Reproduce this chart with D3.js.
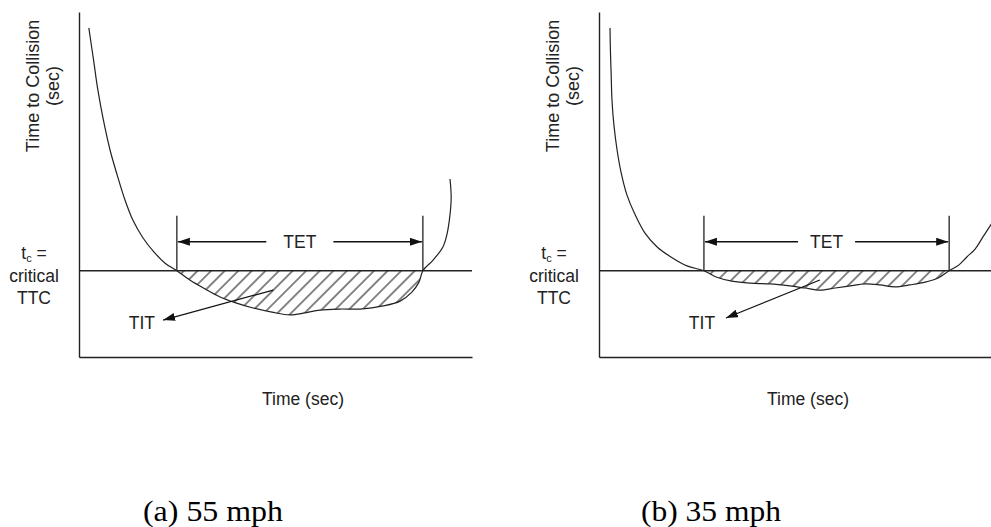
<!DOCTYPE html>
<html><head><meta charset="utf-8">
<script src="https://cdn.jsdelivr.net/npm/d3@7"></script>
<style>body{margin:0;background:#fff}svg{display:block}</style>
</head><body>
<svg id="c" width="991" height="527"></svg>
<script>
// ---- data (time in % of window, TTC in % of axis height) ----
const criticalTTC = 25;
const timeA = [2.5,3.7,4.8,6.2,7.9,9.7,11.7,13.7,16.3,19.1,21.9,24.9,28.2,32.1,35.9,39.9,44.3,49.1,53.7,57.5,61.3,66.4,71.5,77.4,81.7,84.7,86.5,87.5,90.1,92.6,93.6,94.4,94.7,94.4];
const ttcA  = [95.4,86.1,77.4,68.7,60.0,52.8,45.5,39.7,34.5,30.4,27.2,25,22.3,19.7,17.4,15.7,14.2,13.0,12.2,12.8,13.6,13.9,13.9,14.8,16.2,18.8,21.7,25,28.1,31.9,35.4,41.2,46.4,51.6];
const timeB = [2.8,2.9,3.1,3.3,3.8,4.6,5.6,7.1,9.2,11.7,14.8,18.3,22.4,26.7,29.8,33.8,38.4,43.5,48.6,52.4,56.2,60.1,63.9,67.7,71.5,75.3,79.1,83.0,86.3,89.1,91.6,93.6,95.7,97.7,99.7,101.3];
const ttcB  = [95.4,89.0,81.7,74.5,67.2,60.0,53.6,47.0,41.2,35.9,31.9,29.0,26.4,25,23.2,22.0,21.4,21.2,20.6,20.0,19.4,20.0,20.6,21.2,20.9,20.3,20.9,21.7,22.9,25,26.7,29.0,31.3,34.8,38.3,40.9];
const captions = ["(a) 55 mph", "(b) 35 mph"];
const yAxisLines = ["Time to Collision", "(sec)"];
const xAxisTitle = "Time (sec)";
const tcLines = ["critical", "TTC"];
const tetLabel = "TET";
const titLabel = "TIT";

// ---- layout ----
const panels = [
  {time: timeA, ttc: ttcA, caption: captions[0], x0: 79, titFrom: [49.4, 19.4], titTo: [21.4, 10.7], titText: [16.0, 8.1], xTitle: 303, capX: 213, tetPad: 17},
  {time: timeB, ttc: ttcB, caption: captions[1], x0: 599, titFrom: [56.2, 22.3], titTo: [32.3, 11.3], titText: [26.2, 8.1], xTitle: 808, capX: 711, tetPad: 12}
];
const PW = 393, yTop = 12, yBot = 357;
const ink = "#222";
const txt = "#222";
const sans = "'Liberation Sans', Arial, sans-serif";
const fs = 17.5;

const svg = d3.select("#c");
svg.append("rect").attr("width", 991).attr("height", 527).attr("fill", "#fff");
const defs = svg.append("defs");
const pat = defs.append("pattern").attr("id", "hatch").attr("patternUnits", "userSpaceOnUse")
  .attr("width", 9.6).attr("height", 9.6).attr("patternTransform", "rotate(45)");
pat.append("line").attr("x1", 4.8).attr("x2", 4.8).attr("y1", 0).attr("y2", 9.6)
  .attr("stroke", ink).attr("stroke-width", 1.1);
defs.append("marker").attr("id", "arr").attr("markerUnits", "userSpaceOnUse")
  .attr("markerWidth", 13).attr("markerHeight", 9).attr("refX", 12).attr("refY", 4)
  .attr("orient", "auto")
  .append("path").attr("d", "M0,0L12,4L0,8Z").attr("fill", "#111");

panels.forEach(p => {
  const x = d3.scaleLinear([0, 100], [p.x0, p.x0 + PW]);
  const y = d3.scaleLinear([0, 100], [yBot, yTop]);
  const g = svg.append("g");

  // axes
  const ay = g.append("g").attr("transform", `translate(${p.x0},0)`)
    .call(d3.axisLeft(y).tickValues([]).tickSizeOuter(0));
  const ax = g.append("g").attr("transform", `translate(0,${yBot})`)
    .call(d3.axisBottom(x).tickValues([]).tickSizeOuter(0));
  [ay, ax].forEach(a => a.select(".domain").attr("stroke", ink).attr("stroke-width", 1.4));

  const pts = p.time.map((t, i) => [t, p.ttc[i]]);
  const line = d3.line().x(d => x(d[0])).y(d => y(d[1])).curve(d3.curveCatmullRom.alpha(0.5));

  // hatched region below critical TTC
  const i0 = p.ttc.findIndex(v => v <= criticalTTC);
  let i1 = p.ttc.length - 1; while (p.ttc[i1] > criticalTTC) i1--;
  const sub = pts.slice(i0, i1 + 1);
  g.append("path").attr("d", line(sub) + "Z").attr("fill", "url(#hatch)").attr("stroke", "none");

  // critical line
  g.append("line").attr("x1", x(0)).attr("x2", x(100)).attr("y1", y(criticalTTC)).attr("y2", y(criticalTTC))
    .attr("stroke", ink).attr("stroke-width", 1.3);

  // curve
  g.append("path").attr("d", line(pts)).attr("fill", "none").attr("stroke", ink).attr("stroke-width", 1.2);

  // TET bracket
  const xa = x(p.time[i0]), xb = x(p.time[i1]);
  const yc = y(criticalTTC), yBr = yc - 55, yAr = yc - 29;
  [xa, xb].forEach(xx => g.append("line").attr("x1", xx).attr("x2", xx).attr("y1", yBr).attr("y2", yc)
    .attr("stroke", ink).attr("stroke-width", 1.3));
  const mid = (xa + xb) / 2;
  const tet = g.append("text").attr("x", mid).attr("y", yAr).attr("dy", "0.36em")
    .attr("text-anchor", "middle").attr("font-family", sans).attr("font-size", fs).attr("fill", txt).text(tetLabel);
  const hw = tet.node().getComputedTextLength() / 2 + p.tetPad;
  g.append("line").attr("x1", mid - hw).attr("x2", xa + 1).attr("y1", yAr).attr("y2", yAr)
    .attr("stroke", "#111").attr("stroke-width", 1.3).attr("marker-end", "url(#arr)");
  g.append("line").attr("x1", mid + hw).attr("x2", xb - 1).attr("y1", yAr).attr("y2", yAr)
    .attr("stroke", "#111").attr("stroke-width", 1.3).attr("marker-end", "url(#arr)");

  // TIT arrow
  g.append("line").attr("x1", x(p.titFrom[0])).attr("y1", y(p.titFrom[1]))
    .attr("x2", x(p.titTo[0])).attr("y2", y(p.titTo[1]))
    .attr("stroke", "#111").attr("stroke-width", 1.2).attr("marker-end", "url(#arr)");
  g.append("text").attr("x", x(p.titText[0])).attr("y", y(p.titText[1]))
    .attr("text-anchor", "middle").attr("font-family", sans).attr("font-size", fs).attr("fill", txt).text(titLabel);

  // y-axis title (rotated, two lines)
  yAxisLines.forEach((s, k) => {
    g.append("text").attr("transform", `translate(${p.x0 - 40 + k * 20},86) rotate(-90)`)
      .attr("text-anchor", "middle").attr("font-family", sans).attr("font-size", 18).attr("fill", txt).text(s);
  });

  // tc = critical TTC
  const tcx = p.x0 - 45;
  const t1 = g.append("text").attr("x", tcx).attr("y", yc - 12).attr("text-anchor", "middle")
    .attr("font-family", sans).attr("font-size", fs).attr("fill", txt);
  t1.append("tspan").text("t");
  t1.append("tspan").attr("font-size", 11).attr("dy", 3).text("c");
  t1.append("tspan").attr("dy", -3).text(" =");
  tcLines.forEach((s, k) => {
    g.append("text").attr("x", tcx).attr("y", yc + 11 + k * 22).attr("text-anchor", "middle")
      .attr("font-family", sans).attr("font-size", fs).attr("fill", txt).text(s);
  });

  // x-axis title
  g.append("text").attr("x", p.xTitle).attr("y", 405).attr("text-anchor", "middle")
    .attr("font-family", sans).attr("font-size", fs).attr("fill", txt).text(xAxisTitle);

  // caption
  g.append("text").attr("x", p.capX).attr("y", 521).attr("text-anchor", "middle")
    .attr("font-family", "'Liberation Serif', 'Times New Roman', serif").attr("font-size", 29)
    .attr("fill", "#000").attr("textLength", 140).attr("lengthAdjust", "spacingAndGlyphs").text(p.caption);
});
</script>
</body></html>
